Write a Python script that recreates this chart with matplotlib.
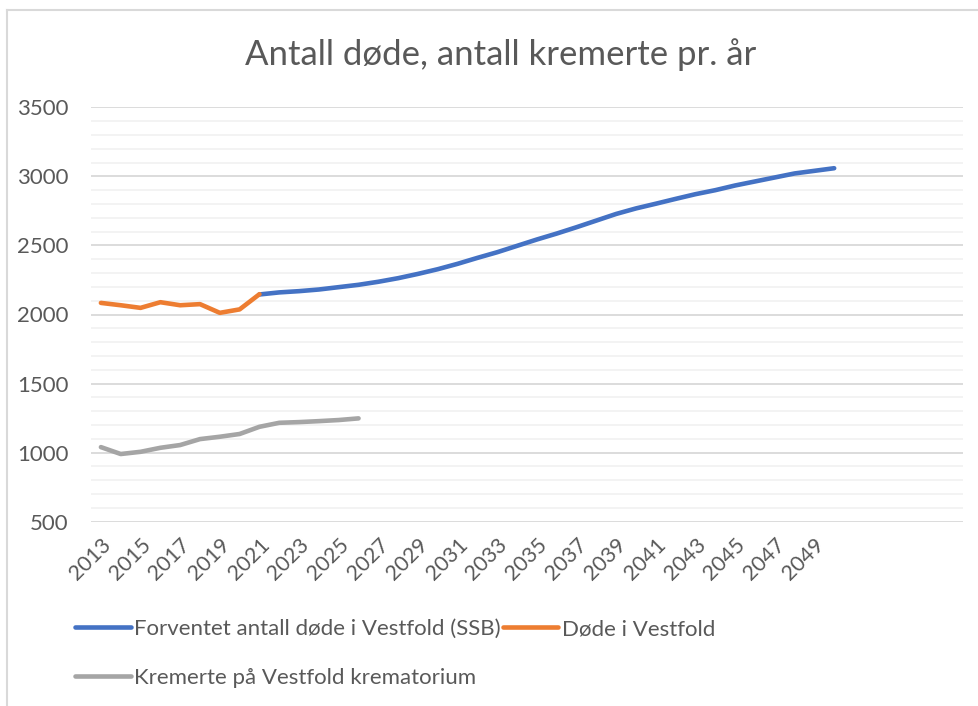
import matplotlib
matplotlib.use("Agg")
import matplotlib.pyplot as plt
from matplotlib.lines import Line2D
import numpy as np

plt.rcParams['font.family'] = ['Lato', 'DejaVu Sans']

# ---------------- data ----------------
years = list(range(2013, 2051))
n_slots = 44   # chart has empty categories after 2050

forventet_years = list(range(2021, 2051))
forventet = [2145, 2160, 2169, 2181, 2198, 2215, 2237, 2263, 2294, 2328,
             2367, 2410, 2451, 2497, 2543, 2586, 2632, 2680, 2728, 2768,
             2802, 2837, 2871, 2900, 2934, 2963, 2992, 3021, 3040, 3059]

dode_years = list(range(2013, 2022))
dode = [2084, 2067, 2048, 2089, 2067, 2075, 2012, 2037, 2147]

kremerte_years = list(range(2013, 2027))
kremerte = [1040, 990, 1006, 1035, 1055, 1098, 1115, 1135, 1187, 1216,
            1221, 1228, 1236, 1248]

tick_years = list(range(2013, 2050, 2))

title = "Antall døde, antall kremerte pr. år"
lab_blue = "Forventet antall døde i Vestfold (SSB)"
lab_orange = "Døde i Vestfold"
lab_gray = "Kremerte på Vestfold krematorium"

# ---------------- plot ----------------
W, H = 979, 706
fig = plt.figure(figsize=(W / 100, H / 100), dpi=100)
ax = fig.add_axes([91 / W, 1 - 521.7 / H, (963 - 91) / W, (521.7 - 107.3) / H])

def idx(yrs):
    return [y - years[0] for y in yrs]

lw = 3.3
l_blue, = ax.plot(idx(forventet_years), forventet, color='#4472c4', lw=lw,
                  solid_capstyle='round', label=lab_blue, zorder=3)
l_orange, = ax.plot(idx(dode_years), dode, color='#ed7d31', lw=lw,
                    solid_capstyle='round', label=lab_orange, zorder=4)
l_gray, = ax.plot(idx(kremerte_years), kremerte, color='#a5a5a5', lw=lw,
                  solid_capstyle='round', label=lab_gray, zorder=3)

ax.set_xlim(-0.5, n_slots - 0.5)
ax.set_ylim(500, 3500)
ax.set_yticks(np.arange(500, 3501, 500))
ax.set_yticks(np.arange(500, 3501, 100), minor=True)
ax.grid(which='major', axis='y', color='#d9d9d9', lw=1.3, zorder=0)
ax.grid(which='minor', axis='y', color='#f2f2f2', lw=1.3, zorder=0)
ax.set_axisbelow(True)
for s in ax.spines.values():
    s.set_visible(False)

ax.set_xticks(idx(tick_years))
ax.set_xticklabels([str(y) for y in tick_years], rotation=45, ha='right',
                   va='top', rotation_mode='anchor')
ax.tick_params(axis='x', length=0, pad=9, labelsize=15.5, labelcolor='#595959')
ax.tick_params(axis='y', which='both', length=0, pad=16, labelsize=16,
               labelcolor='#595959')

fig.text(0.511, 1 - 55 / H, title, ha='center', va='center', fontsize=25,
         color='#595959')

fig.legend(handles=[l_blue, l_gray, l_orange], labels=[lab_blue, lab_gray, lab_orange],
           ncol=2, loc='upper left', bbox_to_anchor=(75 / W, 1 - 619 / H),
           frameon=False, fontsize=16, labelcolor='#595959', handlelength=2.5,
           handletextpad=0.15, columnspacing=0.1, labelspacing=1.3, borderpad=0,
           borderaxespad=0)

# chart area border (only top and left visible in crop)
fig.add_artist(Line2D([7 / W, 7 / W], [0, 1 - 10 / H], transform=fig.transFigure,
                      color='#d9d9d9', lw=1.5))
fig.add_artist(Line2D([7 / W, 1], [1 - 10 / H, 1 - 10 / H], transform=fig.transFigure,
                      color='#d9d9d9', lw=1.5))

fig.savefig("out.png", dpi=100, facecolor='white')
